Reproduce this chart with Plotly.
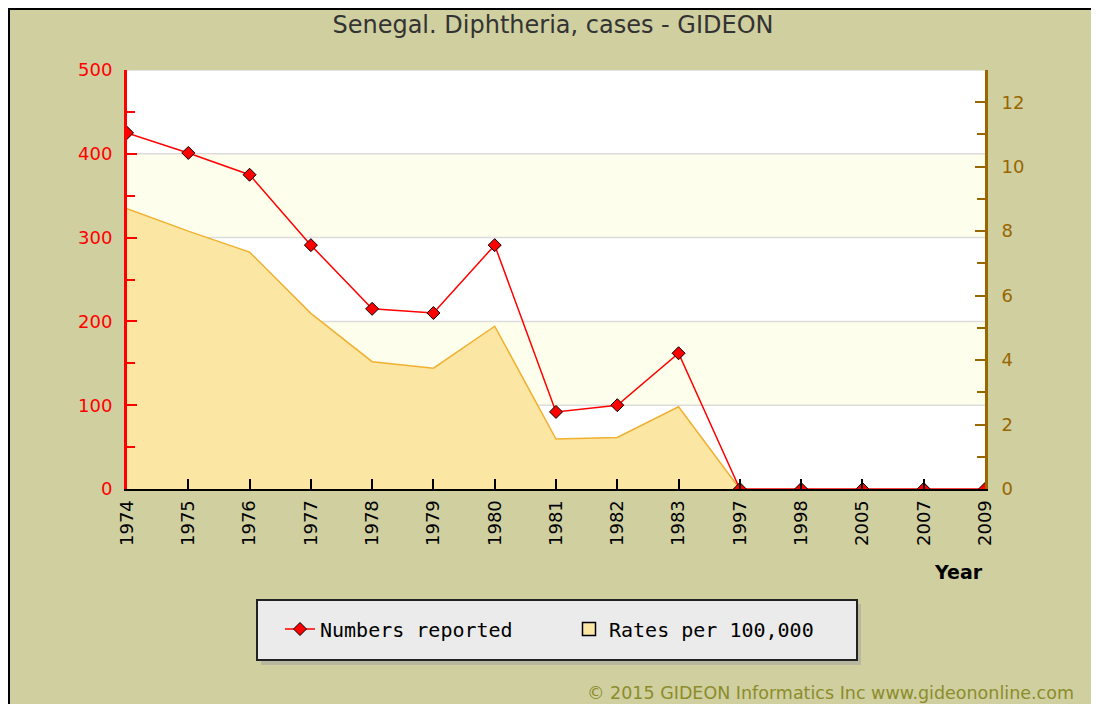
import plotly.graph_objects as go

# ---- data ----
years = ["1974", "1975", "1976", "1977", "1978", "1979", "1980", "1981",
         "1982", "1983", "1997", "1998", "2005", "2007", "2009"]
numbers_reported = [425, 401, 375, 291, 215, 210, 291, 92, 100, 162, 0, 0, 0, 0, 0]
rates_per_100k = [8.7, 8.0, 7.35, 5.45, 3.95, 3.75, 5.05, 1.55, 1.6, 2.55, 0,
                  None, None, None, None]
band_edges = [(100, 200), (300, 400)]
grid_values = [100, 200, 300, 400, 500]

# ---- geometry helpers (layout only), in page pixels ----
W, H = 1099, 704
OFF = 8  # default body margin of the html page
L, R, T, B = 127, 985, 70, 489


def px(x):
    return (x - L) / (R - L)


def py(y):
    return (B - y) / (B - T)


OLIVE = "#CFCFA0"
RED = "#FF0000"
BROWN = "#996600"
AREA_FILL = "#FBE6A4"
AREA_LINE = "#F0B030"

fig = go.Figure()

# area on base axis (right side, rates)
fig.add_trace(go.Scatter(
    x=years, y=rates_per_100k, mode="lines", fill="tozeroy",
    fillcolor=AREA_FILL, line=dict(color=AREA_LINE, width=1.5),
    name="Rates per 100,000", showlegend=False, yaxis="y",
    hovertemplate="%{x}: %{y}<extra>Rates per 100,000</extra>"))

# legend stand-in for the area series
fig.add_trace(go.Scatter(
    x=[None], y=[None], mode="markers",
    marker=dict(symbol="square", size=13, color=AREA_FILL,
                line=dict(color="black", width=1.5)),
    name="Rates per 100,000", yaxis="y", legendrank=2))

# numbers on overlaying axis (left side)
fig.add_trace(go.Scatter(
    x=years, y=numbers_reported, mode="lines+markers",
    line=dict(color=RED, width=1.5),
    marker=dict(symbol="diamond", size=10, color=RED,
                line=dict(color="black", width=1)),
    name="Numbers reported", yaxis="y2", legendrank=1))

shapes = []
for lo, hi in band_edges:
    shapes.append(dict(type="rect", xref="paper", yref="y2", x0=0, x1=1,
                       y0=lo, y1=hi, fillcolor="#FEFEEC", line=dict(width=0),
                       layer="below"))
for g in grid_values:
    shapes.append(dict(type="line", xref="paper", yref="y2", x0=0, x1=1,
                       y0=g, y1=g, line=dict(color="#DCDCDC", width=1.5),
                       layer="below"))

# black frame (top and left edges)
shapes.append(dict(type="line", xref="paper", yref="paper",
                   x0=px(OFF), x1=px(OFF + W), y0=py(OFF + 1), y1=py(OFF + 1),
                   line=dict(color="black", width=2)))
shapes.append(dict(type="line", xref="paper", yref="paper",
                   x0=px(OFF + 1), x1=px(OFF + 1), y0=py(OFF), y1=py(OFF + H),
                   line=dict(color="black", width=2)))

# legend box with shadow
shapes.append(dict(type="rect", xref="paper", yref="paper",
                   x0=px(261), x1=px(861), y0=py(604), y1=py(665),
                   fillcolor="#B8B8A0", line=dict(width=0)))
shapes.append(dict(type="rect", xref="paper", yref="paper",
                   x0=px(257), x1=px(857), y0=py(600), y1=py(660),
                   fillcolor="#EBEBEB", line=dict(color="#222222", width=2)))

annotations = [
    dict(text="<b>Year</b>", xref="paper", yref="paper", x=px(985), y=py(572),
         xanchor="right", yanchor="middle", showarrow=False,
         font=dict(family="DejaVu Sans", size=19, color="black")),
    dict(text="© 2015 GIDEON Informatics Inc www.gideononline.com",
         xref="paper", yref="paper", x=px(585), y=py(693),
         xanchor="left", yanchor="middle", showarrow=False,
         font=dict(family="DejaVu Sans", size=17.5, color="#8C8C2A")),
]

fig.update_layout(
    width=W, height=H,
    margin=dict(l=L - OFF, r=W - (R - OFF), t=T - OFF, b=H - (B - OFF), pad=0),
    paper_bgcolor=OLIVE, plot_bgcolor="white",
    title=dict(text="Senegal. Diphtheria, cases - GIDEON",
               x=px(553), xref="paper", xanchor="center",
               y=1 - (25 - OFF) / H, yref="container", yanchor="middle",
               font=dict(family="DejaVu Sans", size=24, color="#333333")),
    xaxis=dict(type="category", range=[0, len(years) - 1],
               tickangle=-90, ticks="inside", ticklen=10, tickwidth=1.5,
               tickcolor="black", showline=True, linecolor="black",
               linewidth=2, showgrid=False, zeroline=False,
               tickfont=dict(family="DejaVu Sans", size=18, color="black"),
               ticklabelstandoff=2),
    yaxis=dict(range=[0, 13], side="right", dtick=2, ticks="inside",
               ticklen=10, tickwidth=1.5, tickcolor=BROWN,
               showline=True, linecolor=BROWN, linewidth=3,
               showgrid=False, zeroline=False,
               minor=dict(dtick=1, ticks="inside", ticklen=8,
                          tickcolor=BROWN, tickwidth=1.5),
               tickfont=dict(family="DejaVu Sans", size=18, color=BROWN),
               ticklabelstandoff=10),
    yaxis2=dict(range=[0, 500], side="left", overlaying="y", dtick=100,
                ticks="inside", ticklen=10, tickwidth=1.5, tickcolor=RED,
                showline=True, linecolor=RED, linewidth=3,
                showgrid=False, zeroline=False,
                minor=dict(dtick=50, ticks="inside", ticklen=8,
                           tickcolor=RED, tickwidth=1.5),
                tickfont=dict(family="DejaVu Sans", size=18, color=RED),
                ticklabelstandoff=8),
    legend=dict(orientation="h", x=px(280), xanchor="left",
                y=py(629), yanchor="middle", bgcolor="rgba(0,0,0,0)",
                borderwidth=0, entrywidth=244, entrywidthmode="pixels",
                font=dict(family="DejaVu Sans Mono", size=20, color="black")),
    shapes=shapes, annotations=annotations,
    showlegend=True,
)

fig.write_html("out.html")
